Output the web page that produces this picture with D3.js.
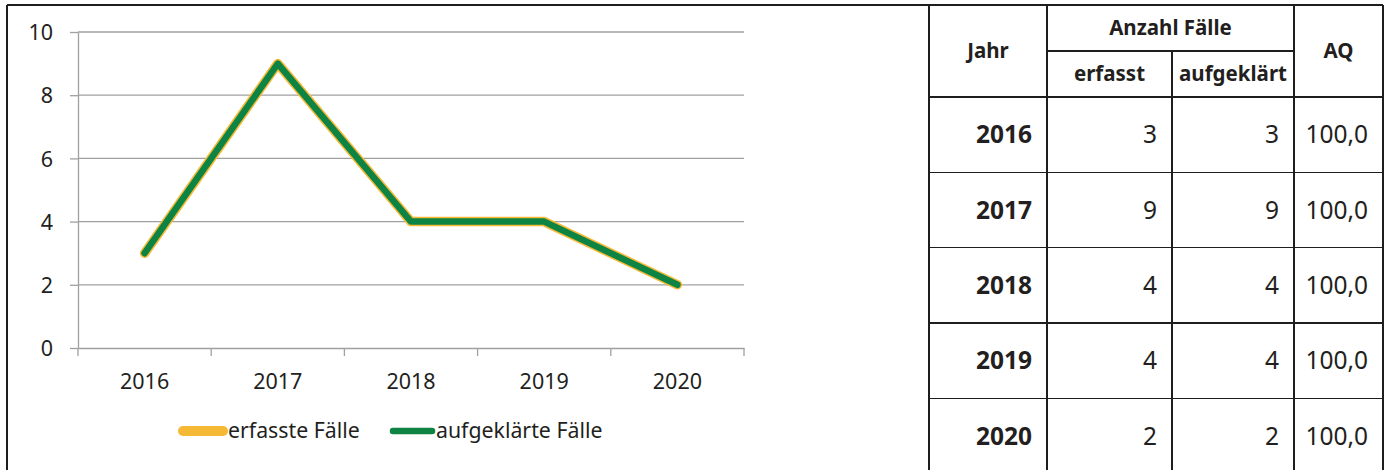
<!DOCTYPE html>
<html>
<head>
<meta charset="utf-8">
<script src="https://cdn.jsdelivr.net/npm/d3@7"></script>
<style>
  body { margin: 0; background: #fff; }
  svg { display: block; font-family: "Noto Sans", sans-serif; }
  .axis path, .axis line { stroke: #a0a0a0; stroke-width: 1.3; }
  .axis text { fill: #231f20; font-size: 21.5px; font-family: "Noto Sans", sans-serif; }
</style>
</head>
<body>
<svg id="chart" width="1390" height="470"></svg>
<script>
'use strict';

// data
const years = ['2016', '2017', '2018', '2019', '2020'];
const erfasst = [3, 9, 4, 4, 2];
const aufgeklaert = [3, 9, 4, 4, 2];
const aq = ['100,0', '100,0', '100,0', '100,0', '100,0'];
const yTicks = [0, 2, 4, 6, 8, 10];

const series = [
  { name: 'erfasste Fälle', values: erfasst, color: '#f6b935', width: 9.5, legendWidth: 10 },
  { name: 'aufgeklärte Fälle', values: aufgeklaert, color: '#0e8444', width: 6.5, legendWidth: 6.5 }
];

const textColor = '#231f20';
const borderColor = '#1e1e1e';

const svg = d3.select('#chart');

// outer frame: chart cell + table
const frame = { left: 7, top: 5, right: 1383, bottom: 474 };
const cols = [929, 1047, 1172, 1294, 1383];
const headerMid = 51;
const headerBottom = 97;
const rowH = 75.3;

// --- chart ---
const x = d3.scaleBand().domain(years).range([78, 744]).paddingInner(0).paddingOuter(0);
const y = d3.scaleLinear().domain([0, 10]).range([348, 32]);

const plot = svg.append('g');

// gridlines
plot.append('g')
  .selectAll('line')
  .data(yTicks.filter(d => d > 0))
  .join('line')
  .attr('x1', x.range()[0]).attr('x2', x.range()[1])
  .attr('y1', d => y(d)).attr('y2', d => y(d))
  .attr('stroke', '#a0a0a0').attr('stroke-width', 1.3);

// y axis
plot.append('g')
  .attr('class', 'axis')
  .attr('transform', `translate(${x.range()[0]},0)`)
  .call(d3.axisLeft(y).tickValues(yTicks).tickSize(8).tickPadding(17).tickSizeOuter(0))
  .call(g => g.selectAll('text').attr('dy', '0.36em'));

// x axis (labels at band centres, tick marks on band edges)
const xAxis = plot.append('g')
  .attr('class', 'axis')
  .attr('transform', `translate(0,${y(0)})`)
  .call(d3.axisBottom(x).tickSize(0).tickPadding(41).tickSizeOuter(0));
xAxis.selectAll('text').attr('dy', '0');
xAxis.append('g')
  .selectAll('line')
  .data(years.map(d => x(d)).concat([x.range()[1]]))
  .join('line')
  .attr('x1', d => d).attr('x2', d => d)
  .attr('y1', 0).attr('y2', 8);

// lines
const line = d3.line()
  .x((d, i) => x(years[i]) + x.bandwidth() / 2)
  .y(d => y(d));

plot.append('g')
  .selectAll('path')
  .data(series)
  .join('path')
  .attr('d', d => line(d.values))
  .attr('fill', 'none')
  .attr('stroke', d => d.color)
  .attr('stroke-width', d => d.width)
  .attr('stroke-linejoin', 'round')
  .attr('stroke-linecap', 'round');

// legend
const legendItems = [
  { x1: 183, x2: 223, tx: 228 },
  { x1: 393, x2: 432, tx: 436 }
];
const legend = plot.append('g').attr('transform', 'translate(0,431)');
legend.selectAll('line')
  .data(series)
  .join('line')
  .attr('x1', (d, i) => legendItems[i].x1).attr('x2', (d, i) => legendItems[i].x2)
  .attr('y1', 0).attr('y2', 0)
  .attr('stroke', d => d.color)
  .attr('stroke-width', d => d.legendWidth)
  .attr('stroke-linecap', 'round');
legend.selectAll('text')
  .data(series)
  .join('text')
  .attr('x', (d, i) => legendItems[i].tx)
  .attr('y', 7)
  .attr('fill', textColor)
  .attr('font-size', 21.3)
  .text(d => d.name);

// --- frame & table ---
const grid = svg.append('g')
  .attr('stroke', borderColor)
  .attr('stroke-width', 1.4)
  .attr('shape-rendering', 'crispEdges');

const rowLines = years.map((d, i) => headerBottom + i * rowH);

grid.append('line').attr('x1', frame.left).attr('x2', frame.right).attr('y1', frame.top).attr('y2', frame.top);
grid.append('line').attr('x1', frame.left).attr('x2', frame.left).attr('y1', frame.top).attr('y2', frame.bottom);
grid.selectAll('.vcol')
  .data(cols)
  .join('line')
  .attr('x1', d => d).attr('x2', d => d)
  .attr('y1', (d, i) => (i === 2 ? headerMid : frame.top))
  .attr('y2', frame.bottom);
grid.append('line').attr('x1', cols[1]).attr('x2', cols[3]).attr('y1', headerMid).attr('y2', headerMid);
grid.selectAll('.hrow')
  .data(rowLines)
  .join('line')
  .attr('x1', cols[0]).attr('x2', cols[4])
  .attr('y1', d => d).attr('y2', d => d);

// header texts
const headFont = 20.5;
const header = [
  { t: 'Jahr', cx: (cols[0] + cols[1]) / 2, cy: (frame.top + headerBottom) / 2 },
  { t: 'Anzahl Fälle', cx: (cols[1] + cols[3]) / 2, cy: (frame.top + headerMid) / 2 },
  { t: 'erfasst', cx: (cols[1] + cols[2]) / 2, cy: (headerMid + headerBottom) / 2 },
  { t: 'aufgeklärt', cx: (cols[2] + cols[3]) / 2, cy: (headerMid + headerBottom) / 2 },
  { t: 'AQ', cx: (cols[3] + cols[4]) / 2, cy: (frame.top + headerBottom) / 2 }
];
svg.append('g')
  .selectAll('text')
  .data(header)
  .join('text')
  .attr('x', d => d.cx)
  .attr('y', d => d.cy + headFont * 0.36)
  .attr('text-anchor', 'middle')
  .attr('font-size', headFont)
  .attr('font-weight', 'bold')
  .attr('fill', textColor)
  .text(d => d.t);

// body cells
const cellFont = 24.5;
const pad = 15;
const rows = years.map((d, i) => [d, String(erfasst[i]), String(aufgeklaert[i]), aq[i]]);
const body = svg.append('g');
rows.forEach((r, i) => {
  const cy = rowLines[i] + rowH / 2;
  body.selectAll(null)
    .data(r)
    .join('text')
    .attr('x', (d, j) => cols[j + 1] - pad)
    .attr('y', cy + cellFont * 0.36)
    .attr('text-anchor', 'end')
    .attr('font-size', cellFont)
    .attr('font-weight', (d, j) => (j === 0 ? 'bold' : 'normal'))
    .attr('fill', textColor)
    .text(d => d);
});
</script>
</body>
</html>
